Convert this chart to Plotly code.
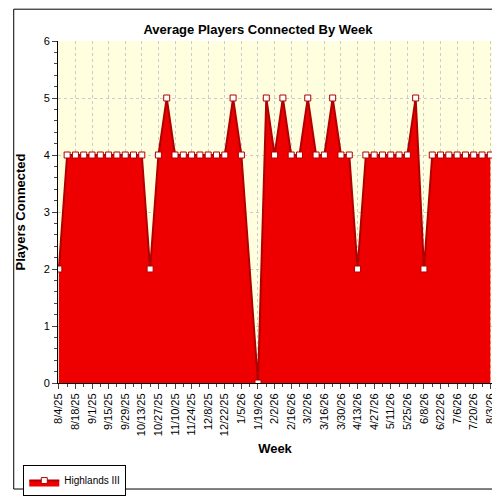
import plotly.graph_objects as go
import pandas as pd

weeks = pd.date_range("2025-08-04", "2026-08-03", freq="7D")
week_labels = [f"{d.month}/{d.day}/{d.year % 100}" for d in weeks]
players = [2, 4, 4, 4, 4, 4, 4, 4, 4, 4, 4, 2, 4, 5, 4, 4, 4, 4, 4, 4, 4, 5, 4, None,
           0, 5, 4, 5, 4, 4, 5, 4, 4, 5, 4, 4, 2, 4, 4, 4, 4, 4, 4, 5, 2,
           4, 4, 4, 4, 4, 4, 4, 4]

fig = go.Figure()
fig.add_trace(go.Scatter(
    x=list(range(len(week_labels))), y=players, mode="lines+markers",
    connectgaps=True, fill="tozeroy", fillcolor="#EE0000",
    line=dict(color="#B00000", width=2),
    marker=dict(symbol="square", size=6, color="white", line=dict(color="#B00000", width=1)),
    name="Highlands III"))

fig.update_layout(
    width=500, height=500,
    paper_bgcolor="white", plot_bgcolor="#FFFFE0",
    font=dict(family="Arial, Liberation Sans", size=11, color="black"),
    title=dict(text="<b>Average Players Connected By Week</b>", x=0.5, y=0.967,
               font=dict(size=13)),
    margin=dict(l=45, r=12, t=33, b=108),
    showlegend=True,
    legend=dict(x=-0.08, y=-0.24, xanchor="left", yanchor="top", orientation="h",
                bordercolor="black", borderwidth=1, font=dict(size=10)),
    xaxis=dict(title=dict(text="<b>Week</b>", standoff=8), range=[-0.1, 52.2],
               tickvals=list(range(0, 53, 2)), ticktext=week_labels[::2],
               tickangle=-90, showgrid=True, gridcolor="#CCCCCC", griddash="dot",
               ticks="outside", ticklen=5, showline=True, linecolor="black",
               zeroline=False, minor=dict(ticks="outside", ticklen=3, dtick=1, tick0=0)),
    yaxis=dict(title=dict(text="<b>Players Connected</b>"), range=[0, 6], dtick=1,
               showgrid=True, gridcolor="#CCCCCC", griddash="dot",
               ticks="outside", ticklen=5, showline=True, linecolor="black",
               zeroline=False, minor=dict(ticks="outside", ticklen=3, dtick=0.2)),
    shapes=[dict(type="rect", xref="paper", yref="paper", x0=-0.102, y0=-0.31, x1=1.027, y1=1.093,
                 line=dict(color="black", width=1))],
)

fig.write_html("out.html")
